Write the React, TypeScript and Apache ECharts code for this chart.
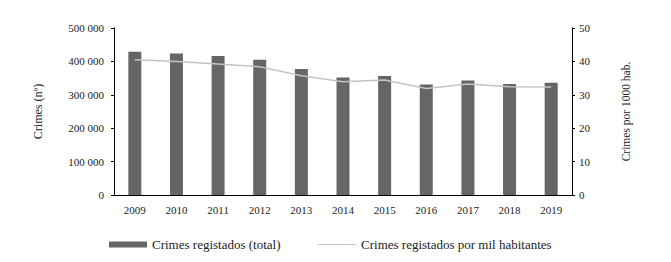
import React, { useEffect, useRef } from "react";
import * as echarts from "echarts";

const years = ["2009", "2010", "2011", "2012", "2013", "2014", "2015", "2016", "2017", "2018", "2019"];
const crimesTotal = [429000, 424000, 416000, 405000, 377000, 352000, 356000, 331000, 343000, 332000, 336000];
const crimesPerThousand = [40.5, 40.0, 39.2, 38.4, 35.7, 33.9, 34.4, 31.9, 33.2, 32.4, 32.3];

const FONT = "Liberation Serif";

function fmtThousands(v: number): string {
  return String(v).replace(/\B(?=(\d{3})+(?!\d))/g, " ");
}

export default function App() {
  const ref = useRef<HTMLDivElement>(null);
  useEffect(() => {
    if (!ref.current) return;
    const chart = echarts.init(ref.current, undefined, { renderer: "svg" });
    const axisLabel = { color: "#222", fontFamily: FONT, fontSize: 11 };
    chart.setOption({
      animation: false,
      backgroundColor: "#ffffff",
      grid: { left: 114, right: 99, top: 28, bottom: 67 },
      legend: {
        left: 104,
        top: 233,
        itemGap: 37,
        itemWidth: 38,
        itemHeight: 6,
        textStyle: { color: "#222", fontFamily: FONT, fontSize: 13 },
        data: [
          { name: "Crimes registados (total)", icon: "rect" },
          {
            name: "Crimes registados por mil habitantes",
            itemStyle: { opacity: 0 },
            lineStyle: { width: 1, color: "#c4c4c4" },
          },
        ],
      },
      xAxis: {
        type: "category",
        data: years,
        axisLine: { lineStyle: { color: "#000", width: 1 } },
        axisTick: { show: false },
        axisLabel: { ...axisLabel, margin: 9 },
      },
      yAxis: [
        {
          type: "value",
          min: 0,
          max: 500000,
          interval: 100000,
          name: "Crimes (nº)",
          nameLocation: "middle",
          nameRotate: 90,
          nameGap: 70,
          nameTextStyle: { color: "#222", fontFamily: FONT, fontSize: 12 },
          splitLine: { show: false },
          axisLine: { show: true, lineStyle: { color: "#000", width: 1 } },
          axisTick: { show: true, length: 3, lineStyle: { color: "#000" } },
          axisLabel: { ...axisLabel, margin: 10, formatter: (v: number) => fmtThousands(v) },
        },
        {
          type: "value",
          min: 0,
          max: 50,
          interval: 10,
          position: "right",
          name: "Crimes por 1000 hab.",
          nameLocation: "middle",
          nameRotate: 90,
          nameGap: 48,
          nameTextStyle: { color: "#222", fontFamily: FONT, fontSize: 11.5 },
          splitLine: { show: false },
          axisLine: { show: true, lineStyle: { color: "#000", width: 1 } },
          axisTick: { show: true, length: 3, lineStyle: { color: "#000" } },
          axisLabel: { ...axisLabel, margin: 7 },
        },
      ],
      series: [
        {
          name: "Crimes registados (total)",
          type: "bar",
          data: crimesTotal,
          barWidth: 13,
          itemStyle: { color: "#666666" },
          yAxisIndex: 0,
        },
        {
          name: "Crimes registados por mil habitantes",
          type: "line",
          data: crimesPerThousand,
          yAxisIndex: 1,
          symbol: "none",
          lineStyle: { color: "#c4c4c4", width: 1.5 },
          itemStyle: { color: "#c4c4c4" },
        },
      ],
    });
    return () => chart.dispose();
  }, []);
  return <div ref={ref} style={{ width: 671, height: 262, margin: -8 }} />;
}
